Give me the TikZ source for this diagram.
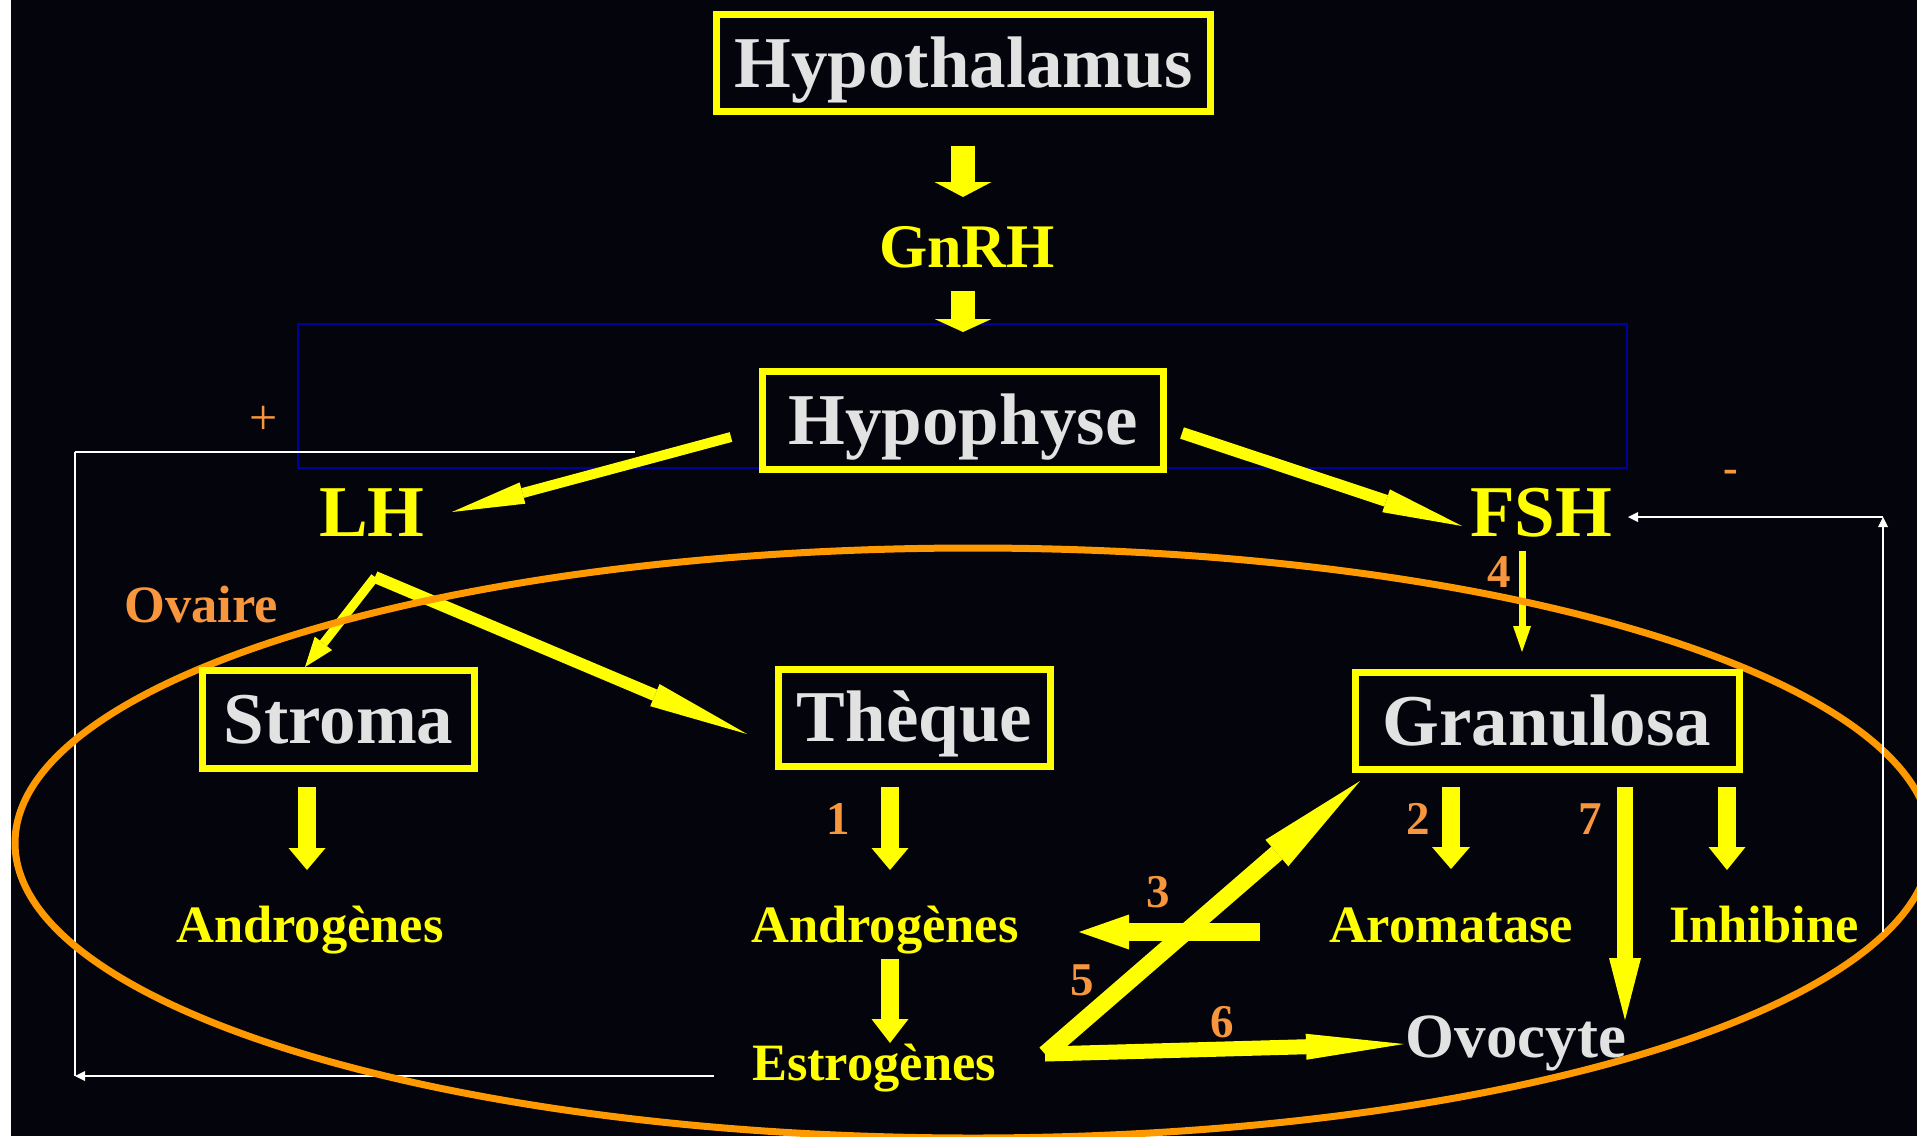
\documentclass[tikz,border=0pt]{standalone}
\usepackage{fontspec}
\setmainfont{Liberation Serif}
\usetikzlibrary{arrows.meta}
\definecolor{bg}{RGB}{3,4,12}
\definecolor{yel}{RGB}{255,255,0}
\definecolor{org}{RGB}{255,153,0}
\definecolor{orgt}{RGB}{247,150,60}
\definecolor{tgray}{RGB}{226,226,226}
\definecolor{bluel}{RGB}{0,0,160}
\tikzset{
  boxn/.style={draw=yel, line width=7pt, text=tgray, font=\bfseries\fontsize{73pt}{73pt}\selectfont, inner sep=0pt, text height=48pt, text depth=0pt},
  big/.style={font=\bfseries\fontsize{73pt}{73pt}\selectfont, text=yel, inner sep=0pt, anchor=base},
  lbl/.style={font=\bfseries\fontsize{52.5pt}{52.5pt}\selectfont, text=yel, inner sep=0pt, anchor=base},
  num/.style={font=\bfseries\fontsize{47pt}{47pt}\selectfont, text=orgt, inner sep=0pt, anchor=base},
  yarr/.style n args={3}{draw=yel, line width=#1, -{Triangle[width=#2,length=#3,line width=0pt]}},
  wtip/.style={-{Triangle[width=10pt,length=10pt,line width=0pt]}}
}
\begin{document}
\begin{tikzpicture}[x=1pt,y=-1pt]
\useasboundingbox (0,0) rectangle (1917,1136);
\fill[bg] (0,0) rectangle (1917,1136);
\fill[white] (0,0) rectangle (11,1136);
\begin{scope}
\clip (11,0) rectangle (1917,1136);
% blue frame
\draw[bluel, line width=2pt] (298,324) rectangle (1627,468);

% named coordinates for arrow ends
\coordinate (a1s) at (963,146);  \coordinate (a1e) at (963,197);
\coordinate (a2s) at (963,291);  \coordinate (a2e) at (963,332);
\coordinate (a3s) at (731,437);  \coordinate (a3e) at (452,512);
\coordinate (a4s) at (1182,433); \coordinate (a4e) at (1462,526);
\coordinate (lhv) at (375,577);
\coordinate (a5e) at (305,667);
\coordinate (a6e) at (747,734);
\coordinate (a7s) at (307,787);  \coordinate (a7e) at (307,870);
\coordinate (a8s) at (890,787);  \coordinate (a8e) at (890,870);
\coordinate (a9s) at (890,959);  \coordinate (a9e) at (890,1043);
\coordinate (a10s) at (1451,787); \coordinate (a10e) at (1451,869);
\coordinate (a11s) at (1727,787); \coordinate (a11e) at (1727,870);
\coordinate (a12s) at (1625,787); \coordinate (a12e) at (1625,1020);
\coordinate (a13s) at (1522,551); \coordinate (a13e) at (1522,652);
\coordinate (a14s) at (1260,932); \coordinate (a14e) at (1079,932);
\coordinate (zv) at (1045,1054);
\coordinate (a15e) at (1360,781);
\coordinate (a16e) at (1404,1044);

% yellow arrows
\draw[yarr={24pt}{57pt}{15pt}] (a1s) -- (a1e);
\draw[yarr={24pt}{57pt}{13pt}] (a2s) -- (a2e);
\draw[yarr={10pt}{22pt}{73pt}] (a3s) -- (a3e);
\draw[yarr={12pt}{24pt}{80pt}] (a4s) -- (a4e);
\draw[yarr={9pt}{22pt}{30pt}] (lhv) -- (a5e);
\draw[yarr={12pt}{24pt}{100pt}] (lhv) -- (a6e);
\draw[yarr={18pt}{37pt}{22pt}] (a7s) -- (a7e);
\draw[yarr={18pt}{37pt}{22pt}] (a8s) -- (a8e);
\draw[yarr={18pt}{37pt}{24pt}] (a9s) -- (a9e);
\draw[yarr={18pt}{38pt}{22pt}] (a10s) -- (a10e);
\draw[yarr={18pt}{37pt}{23pt}] (a11s) -- (a11e);
\draw[yarr={16pt}{32pt}{62pt}] (a12s) -- (a12e);
\draw[yarr={7pt}{18pt}{26pt}] (a13s) -- (a13e);
\draw[yarr={18pt}{35pt}{50pt}] (a14s) -- (a14e);
\draw[yarr={17pt}{35pt}{110pt}] (zv) -- (a15e);
\draw[yarr={15pt}{26pt}{98pt}] (zv) -- (a16e);

% white feedback (left, bottom)
\coordinate (wl1) at (635,452); \coordinate (wl2) at (75,452); \coordinate (wl3) at (75,1076);
\coordinate (wb1) at (714,1076);
\draw[white, line width=2.5pt] (wl1) -- (wl2);
\draw[white, line width=1.6pt] (wl2) -- (wl3);
\draw[white, line width=2.2pt, wtip] (wb1) -- (wl3);

% ovary
\draw[org, line width=7pt] (973,843) ellipse [x radius=958pt, y radius=295pt];

% white feedback (right)
\coordinate (wr1) at (1883,932); \coordinate (wr2) at (1883,517); \coordinate (wr3) at (1628,517);
\draw[white, line width=1.6pt, wtip] (wr1) -- (wr2);
\draw[white, line width=2.2pt, wtip] (wr2) -- (wr3);

% boxes
\node[boxn, minimum width=494pt, minimum height=97pt] (hth) at (963.5,63) {Hypothalamus};
\node[boxn, minimum width=401pt, minimum height=98pt] (hyp) at (963,420.5) {Hypophyse};
\node[boxn, minimum width=272pt, minimum height=98pt] (str) at (338.5,719.5) {Stroma};
\node[boxn, minimum width=272pt, minimum height=97pt] (the) at (914.5,717.5) {Thèque};
\node[boxn, minimum width=384pt, minimum height=97pt] (gra) at (1547,721) {Granulosa};

% labels
\node[big, font=\bfseries\fontsize{62pt}{62pt}\selectfont] (gnrh) at (967,267) {GnRH};
\node[big] (lh) at (372,536) {LH};
\node[big] (fsh) at (1541,536) {FSH};
\node[lbl, text=orgt] (ova) at (201,622) {Ovaire};
\node[lbl] (andl) at (310,942) {Androgènes};
\node[lbl] (andm) at (885,942) {Androgènes};
\node[lbl] (est) at (874,1080) {Estrogènes};
\node[lbl] (aro) at (1451,942) {Aromatase};
\node[lbl] (inh) at (1764,942) {Inhibine};
\node[big, text=tgray, font=\bfseries\fontsize{63pt}{63pt}\selectfont] (ovo) at (1516,1057) {Ovocyte};

\node[num] (n1) at (838,834) {1};
\node[num] (n2) at (1418,834) {2};
\node[num] (n7) at (1590,834) {7};
\node[num] (n4) at (1499,587) {4};
\node[num] (n3) at (1158,907) {3};
\node[num] (n5) at (1082,995) {5};
\node[num] (n6) at (1222,1037) {6};

\node[font=\fontsize{50pt}{50pt}\selectfont, text=orgt, inner sep=0pt] (plus) at (264,420) {+};
\node[font=\bfseries\fontsize{44pt}{44pt}\selectfont, text=orgt, inner sep=0pt, anchor=base] (minus) at (1731,482) {-};
\end{scope}
\end{tikzpicture}
\end{document}
